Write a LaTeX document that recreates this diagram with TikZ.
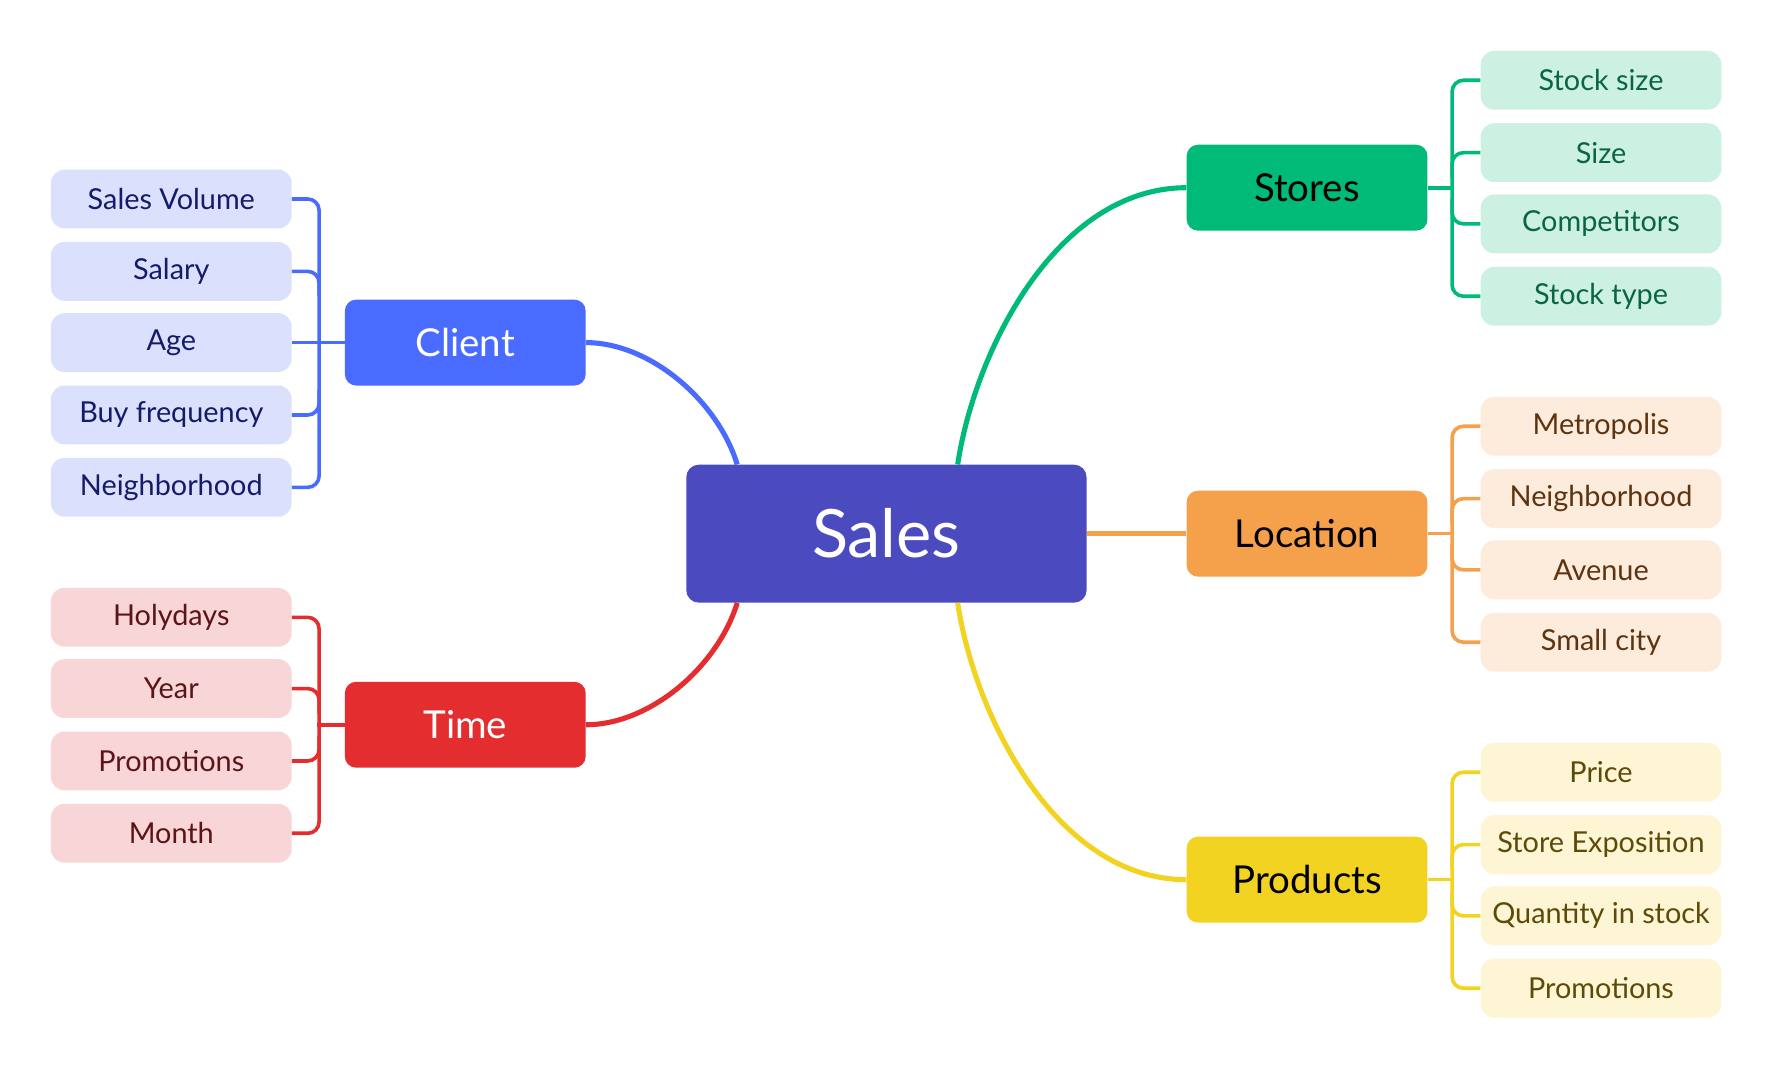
\documentclass[tikz,border=0pt]{standalone}
\usepackage{fontspec}
\setmainfont{Lato}
\usetikzlibrary{calc}
\definecolor{csales}{HTML}{4B4BBF}
\definecolor{cblue}{HTML}{4A6BFF}
\definecolor{cbluel}{HTML}{DBE1FC}
\definecolor{cbluet}{HTML}{141B6B}
\definecolor{cred}{HTML}{E32D2F}
\definecolor{credl}{HTML}{F8D6D7}
\definecolor{credt}{HTML}{5C1416}
\definecolor{cgreen}{HTML}{00BB78}
\definecolor{cgreenl}{HTML}{CCF1E3}
\definecolor{cgreent}{HTML}{0A6640}
\definecolor{corange}{HTML}{F5A04B}
\definecolor{corangel}{HTML}{FDEBDC}
\definecolor{coranget}{HTML}{5E3310}
\definecolor{cyellow}{HTML}{F2D322}
\definecolor{cyellowl}{HTML}{FDF5D3}
\definecolor{cyellowt}{HTML}{5E4A08}
\begin{document}
\begin{tikzpicture}[x=1pt,y=-1pt,
  salesbox/.style={fill=csales,text=white,rounded corners=11pt,minimum width=354pt,minimum height=122pt,inner sep=0pt,font=\fontsize{59}{68}\selectfont},
  topicbox/.style={fill=#1,rounded corners=10pt,minimum width=213pt,minimum height=76pt,inner sep=0pt,font=\fontsize{34}{40}\selectfont},
  leafbox/.style={fill=#1,rounded corners=12pt,minimum width=213pt,minimum height=52pt,inner sep=0pt,font=\fontsize{25.5}{30}\selectfont},
  conn/.style={draw=#1,line width=4.5pt},
  brk/.style={draw=#1,line width=3.2pt,rounded corners=10pt}]
\useasboundingbox[fill=white] (0,0) rectangle (1569,946);

% central node
\node[salesbox] (sales) at (784,472) {Sales};

% topic nodes
\node[topicbox=cblue,text=white] (client) at (411.5,303) {Client};
\node[topicbox=cred,text=white] (time) at (411.5,641) {Time};
\node[topicbox=cgreen,text=black] (stores) at (1156,166) {Stores};
\node[topicbox=corange,text=black] (location) at (1156,472) {Location};
\node[topicbox=cyellow,text=black] (products) at (1156,778) {Products};

% client leaves
\node[leafbox=cbluel,text=cbluet] (ca) at (151.5,176) {Sales Volume};
\node[leafbox=cbluel,text=cbluet] (cb) at (151.5,240) {Salary};
\node[leafbox=cbluel,text=cbluet] (cc) at (151.5,303) {Age};
\node[leafbox=cbluel,text=cbluet] (cd) at (151.5,367) {Buy frequency};
\node[leafbox=cbluel,text=cbluet] (ce) at (151.5,431) {Neighborhood};

% time leaves
\node[leafbox=credl,text=credt] (ta) at (151.5,546) {Holydays};
\node[leafbox=credl,text=credt] (tb) at (151.5,609) {Year};
\node[leafbox=credl,text=credt] (tc) at (151.5,673) {Promotions};
\node[leafbox=credl,text=credt] (td) at (151.5,737) {Month};

% stores leaves
\node[leafbox=cgreenl,text=cgreent] (sa) at (1416,71) {Stock size};
\node[leafbox=cgreenl,text=cgreent] (sb) at (1416,135) {Size};
\node[leafbox=cgreenl,text=cgreent] (sc) at (1416,198) {Competitors};
\node[leafbox=cgreenl,text=cgreent] (sd) at (1416,262) {Stock type};

% location leaves
\node[leafbox=corangel,text=coranget] (la) at (1416,377) {Metropolis};
\node[leafbox=corangel,text=coranget] (lb) at (1416,441) {Neighborhood};
\node[leafbox=corangel,text=coranget] (lc) at (1416,504) {Avenue};
\node[leafbox=corangel,text=coranget] (ld) at (1416,568) {Small city};

% products leaves
\node[leafbox=cyellowl,text=cyellowt] (pa) at (1416,683) {Price};
\node[leafbox=cyellowl,text=cyellowt] (pb) at (1416,747) {Store Exposition};
\node[leafbox=cyellowl,text=cyellowt] (pc) at (1416,810) {Quantity in stock};
\node[leafbox=cyellowl,text=cyellowt] (pd) at (1416,874) {Promotions};

% attachment points on the central node
\coordinate (s1) at ($(sales.north)+(-132,0)$);
\coordinate (s2) at ($(sales.north)+(63,0)$);
\coordinate (s3) at ($(sales.south)+(-132,0)$);
\coordinate (s4) at ($(sales.south)+(63,0)$);

% main connectors
\draw[conn=cblue] (client.east) .. controls ($(client.east)+(57,0)$) and ($(s1)+(-17,-56)$) .. (s1);
\draw[conn=cred] (time.east) .. controls ($(time.east)+(57,0)$) and ($(s3)+(-17,56)$) .. (s3);
\draw[conn=cgreen] (s2) .. controls ($(s2)+(15,-100)$) and ($(stores.west)+(-115,0)$) .. (stores.west);
\draw[conn=cyellow] (s4) .. controls ($(s4)+(15,100)$) and ($(products.west)+(-115,0)$) .. (products.west);
\draw[conn=corange] (sales.east) -- (location.west);

% client bracket
\draw[brk=cblue] (ca.east) -- ++(24,0) |- (ce.east);
\draw[brk=cblue] (cb.east) -| ++(24,22);
\draw[brk=cblue] (cd.east) -| ++(24,-22);
\draw[brk=cblue] (cc.east) -- (client.west);

% time bracket
\draw[brk=cred] (ta.east) -- ++(24,0) |- (td.east);
\draw[brk=cred] (tb.east) -| ++(24,22);
\draw[brk=cred] (tc.east) -| ++(24,-22);
\draw[brk=cred] (time.west) -- ++(-24,0);

% stores bracket
\draw[brk=cgreen] (sa.west) -- ++(-25,0) |- (sd.west);
\draw[brk=cgreen] (sb.west) -| ++(-25,22);
\draw[brk=cgreen] (sc.west) -| ++(-25,-22);
\draw[brk=cgreen] (stores.east) -- ++(23,0);

% location bracket
\draw[brk=corange] (la.west) -- ++(-25,0) |- (ld.west);
\draw[brk=corange] (lb.west) -| ++(-25,22);
\draw[brk=corange] (lc.west) -| ++(-25,-22);
\draw[brk=corange] (location.east) -- ++(23,0);

% products bracket
\draw[brk=cyellow] (pa.west) -- ++(-25,0) |- (pd.west);
\draw[brk=cyellow] (pb.west) -| ++(-25,22);
\draw[brk=cyellow] (pc.west) -| ++(-25,-22);
\draw[brk=cyellow] (products.east) -- ++(23,0);
\end{tikzpicture}
\end{document}
